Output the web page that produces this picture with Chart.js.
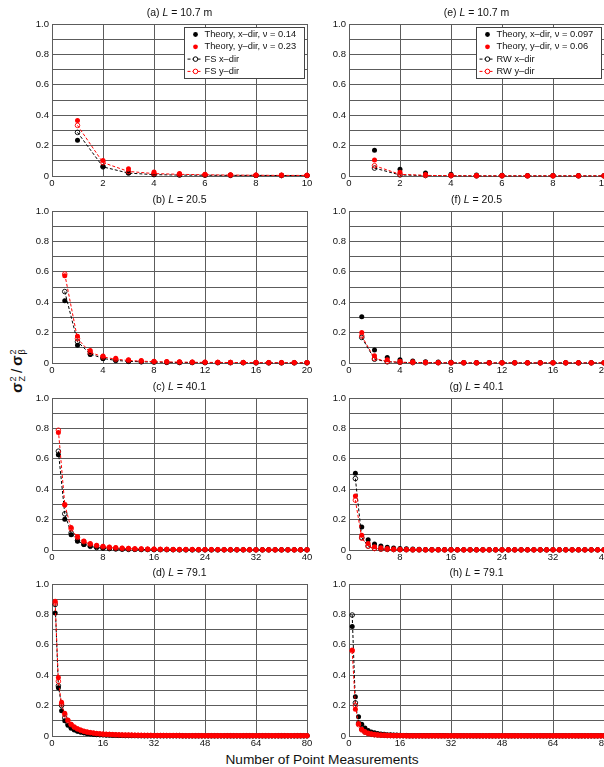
<!DOCTYPE html>
<html>
<head>
<meta charset="utf-8">
<script src="https://cdn.jsdelivr.net/npm/chart.js@4.4.0/dist/chart.umd.min.js"></script>
<style>
  html, body { margin: 0; padding: 0; background: #fff; }
  #wrap { position: relative; width: 604px; height: 767px; overflow: hidden; background: #fff; }
  #wrap canvas { position: absolute; }
  #xlab { position: absolute; left: 322px; top: 759px; transform: translate(-50%, -50%);
          font: 13.7px 'Liberation Sans', Arial, sans-serif; color: #111; white-space: nowrap; }
  #ylab { position: absolute; left: 18px; top: 371px; transform: translate(-50%, -50%) rotate(-90deg);
          font: 15px 'Liberation Sans', Arial, sans-serif; color: #111; white-space: nowrap; }
  #ylab b { font-weight: bold; }
  #ylab .ss { display: inline-flex; flex-direction: column; font-size: 9px; line-height: 9px;
              vertical-align: middle; margin-left: 1px; }
  #ylab .sl { margin: 0 3px; font-weight: normal; }
</style>
</head>
<body>
<div id="wrap">
  <div id="ylab"><b>σ</b><span class="ss"><span>2</span><span>Z</span></span><span class="sl">/</span><b>σ</b><span class="ss"><span>2</span><span>β</span></span></div>
  <div id="xlab">Number of Point Measurements</div>
</div>
<script>
// y axis: grid every 0.1, labels every 0.2
const yGrid = [0, 0.1, 0.2, 0.3, 0.4, 0.5, 0.6, 0.7, 0.8, 0.9, 1.0];
const yTickLabels = ['0', '', '0.2', '', '0.4', '', '0.6', '', '0.8', '', '1.0'];

// x ticks for each row of panels
const xTicks10 = [0, 2, 4, 6, 8, 10];
const xTicks20 = [0, 4, 8, 12, 16, 20];
const xTicks40 = [0, 8, 16, 24, 32, 40];
const xTicks80 = [0, 16, 32, 48, 64, 80];

const legendFS = ['Theory, x–dir, ν = 0.14', 'Theory, y–dir, ν = 0.23', 'FS x–dir', 'FS y–dir'];
const legendRW = ['Theory, x–dir, ν = 0.097', 'Theory, y–dir, ν = 0.06', 'RW x–dir', 'RW y–dir'];

// (a) L = 10.7 m, FS
const thxA = [0.236, 0.063, 0.022, 0.012, 0.008, 0.006, 0.005, 0.004, 0.004, 0.003];
const thyA = [0.365, 0.102, 0.047, 0.026, 0.016, 0.011, 0.008, 0.007, 0.006, 0.005];
const fsxA = [0.287, 0.06, 0.019, 0.009, 0.006, 0.005, 0.004, 0.004, 0.003, 0.003];
const fsyA = [0.333, 0.088, 0.03, 0.016, 0.011, 0.008, 0.006, 0.005, 0.004, 0.004];

// (e) L = 10.7 m, RW
const thxE = [0.17, 0.045, 0.02, 0.011, 0.007, 0.005, 0.004, 0.003, 0.003, 0.002];
const thyE = [0.106, 0.025, 0.01, 0.006, 0.004, 0.003, 0.002, 0.002, 0.002, 0.001];
const rwxE = [0.052, 0.007, 0.003, 0.002, 0.001, 0.001, 0.001, 0.001, 0.001, 0.001];
const rwyE = [0.068, 0.011, 0.004, 0.002, 0.001, 0.001, 0.001, 0.001, 0.001, 0.001];

// (b) L = 20.5, FS
const thxB = [0.41, 0.116, 0.056, 0.03, 0.018, 0.012, 0.009, 0.007, 0.005, 0.004,
              0.004, 0.003, 0.003, 0.003, 0.002, 0.002, 0.002, 0.002, 0.002, 0.002];
const thyB = [0.574, 0.176, 0.082, 0.046, 0.031, 0.021, 0.016, 0.012, 0.01, 0.008,
              0.007, 0.006, 0.005, 0.005, 0.004, 0.004, 0.004, 0.003, 0.003, 0.003];
const fsxB = [0.47, 0.14, 0.06, 0.03, 0.017, 0.011, 0.008, 0.006, 0.004, 0.003,
              0.003, 0.002, 0.002, 0.002, 0.002, 0.001, 0.001, 0.001, 0.001, 0.001];
const fsyB = [0.585, 0.16, 0.07, 0.04, 0.025, 0.017, 0.012, 0.009, 0.007, 0.006,
              0.005, 0.004, 0.004, 0.003, 0.003, 0.003, 0.002, 0.002, 0.002, 0.002];

// (f) L = 20.5, RW
const thxF = [0.305, 0.085, 0.037, 0.021, 0.013, 0.009, 0.007, 0.005, 0.004, 0.003,
              0.003, 0.002, 0.002, 0.002, 0.002, 0.002, 0.001, 0.001, 0.001, 0.001];
const thyF = [0.2, 0.048, 0.021, 0.012, 0.008, 0.005, 0.004, 0.003, 0.003, 0.002,
              0.002, 0.002, 0.002, 0.001, 0.001, 0.001, 0.001, 0.001, 0.001, 0.001];
const rwxF = [0.168, 0.025, 0.008, 0.004, 0.003, 0.002, 0.002, 0.001, 0.001, 0.001,
              0.001, 0.001, 0.001, 0.001, 0.001, 0.001, 0.001, 0.001, 0.001, 0.001];
const rwyF = [0.178, 0.03, 0.01, 0.005, 0.003, 0.002, 0.002, 0.001, 0.001, 0.001,
              0.001, 0.001, 0.001, 0.001, 0.001, 0.001, 0.001, 0.001, 0.001, 0.001];

// (c) L = 40.1, FS
const thxC = [0.627, 0.203, 0.1, 0.058, 0.037, 0.026, 0.019, 0.014, 0.011, 0.009,
              0.007, 0.006, 0.005, 0.004, 0.004, 0.003, 0.003, 0.003, 0.002, 0.002,
              0.002, 0.002, 0.002, 0.002, 0.002, 0.001, 0.001, 0.001, 0.001, 0.001,
              0.001, 0.001, 0.001, 0.001, 0.001, 0.001, 0.001, 0.001, 0.001, 0.001];
const thyC = [0.773, 0.296, 0.148, 0.088, 0.06, 0.043, 0.032, 0.025, 0.02, 0.016,
              0.013, 0.011, 0.009, 0.008, 0.007, 0.006, 0.005, 0.005, 0.004, 0.004,
              0.004, 0.003, 0.003, 0.003, 0.003, 0.003, 0.002, 0.002, 0.002, 0.002,
              0.002, 0.002, 0.002, 0.002, 0.002, 0.002, 0.002, 0.002, 0.002, 0.002];
const fsxC = [0.65, 0.238, 0.112, 0.062, 0.037, 0.024, 0.016, 0.012, 0.009, 0.007,
              0.005, 0.004, 0.004, 0.003, 0.003, 0.002, 0.002, 0.002, 0.002, 0.001,
              0.001, 0.001, 0.001, 0.001, 0.001, 0.001, 0.001, 0.001, 0.001, 0.001,
              0.001, 0.001, 0.001, 0.001, 0.001, 0.001, 0.001, 0.001, 0.001, 0.001];
const fsyC = [0.788, 0.3, 0.14, 0.083, 0.055, 0.038, 0.028, 0.021, 0.016, 0.013,
              0.01, 0.009, 0.007, 0.006, 0.005, 0.005, 0.004, 0.004, 0.003, 0.003,
              0.003, 0.003, 0.002, 0.002, 0.002, 0.002, 0.002, 0.002, 0.002, 0.002,
              0.002, 0.001, 0.001, 0.001, 0.001, 0.001, 0.001, 0.001, 0.001, 0.001];

// (g) L = 40.1, RW
const thxG = [0.505, 0.152, 0.068, 0.039, 0.026, 0.018, 0.013, 0.01, 0.008, 0.006,
              0.005, 0.004, 0.004, 0.003, 0.003, 0.003, 0.002, 0.002, 0.002, 0.002,
              0.002, 0.002, 0.002, 0.001, 0.001, 0.001, 0.001, 0.001, 0.001, 0.001,
              0.001, 0.001, 0.001, 0.001, 0.001, 0.001, 0.001, 0.001, 0.001, 0.001];
const thyG = [0.355, 0.097, 0.042, 0.022, 0.014, 0.01, 0.007, 0.005, 0.004, 0.003,
              0.003, 0.002, 0.002, 0.002, 0.002, 0.001, 0.001, 0.001, 0.001, 0.001,
              0.001, 0.001, 0.001, 0.001, 0.001, 0.001, 0.001, 0.001, 0.001, 0.001,
              0.001, 0.001, 0.001, 0.001, 0.001, 0.001, 0.001, 0.001, 0.001, 0.001];
const rwxG = [0.47, 0.082, 0.026, 0.011, 0.006, 0.004, 0.003, 0.002, 0.002, 0.001,
              0.001, 0.001, 0.001, 0.001, 0.001, 0.001, 0.001, 0.001, 0.001, 0.001,
              0.001, 0.001, 0.001, 0.001, 0.001, 0.001, 0.001, 0.001, 0.001, 0.001,
              0.001, 0.001, 0.001, 0.001, 0.001, 0.001, 0.001, 0.001, 0.001, 0.001];
const rwyG = [0.328, 0.078, 0.025, 0.01, 0.006, 0.004, 0.003, 0.002, 0.002, 0.001,
              0.001, 0.001, 0.001, 0.001, 0.001, 0.001, 0.001, 0.001, 0.001, 0.001,
              0.001, 0.001, 0.001, 0.001, 0.001, 0.001, 0.001, 0.001, 0.001, 0.001,
              0.001, 0.001, 0.001, 0.001, 0.001, 0.001, 0.001, 0.001, 0.001, 0.001];

// (d) L = 79.1, FS
const thxD = [0.81, 0.318, 0.166, 0.1, 0.07, 0.051, 0.04, 0.032, 0.026, 0.021,
              0.017, 0.014, 0.012, 0.01, 0.009, 0.008, 0.007, 0.006, 0.005, 0.005,
              0.004, 0.004, 0.004, 0.003, 0.003, 0.003, 0.003, 0.003, 0.002, 0.002,
              0.002, 0.002, 0.002, 0.002, 0.002, 0.002, 0.002, 0.002, 0.002, 0.002,
              0.002, 0.002, 0.002, 0.001, 0.001, 0.001, 0.001, 0.001, 0.001, 0.001,
              0.001, 0.001, 0.001, 0.001, 0.001, 0.001, 0.001, 0.001, 0.001, 0.001,
              0.001, 0.001, 0.001, 0.001, 0.001, 0.001, 0.001, 0.001, 0.001, 0.001,
              0.001, 0.001, 0.001, 0.001, 0.001, 0.001, 0.001, 0.001, 0.001, 0.001];
const thyD = [0.886, 0.385, 0.222, 0.149, 0.105, 0.077, 0.06, 0.048, 0.039, 0.032,
              0.027, 0.023, 0.02, 0.017, 0.015, 0.013, 0.012, 0.011, 0.01, 0.009,
              0.008, 0.007, 0.007, 0.006, 0.006, 0.005, 0.005, 0.005, 0.004, 0.004,
              0.004, 0.004, 0.003, 0.003, 0.003, 0.003, 0.003, 0.003, 0.003, 0.002,
              0.002, 0.002, 0.002, 0.002, 0.002, 0.002, 0.002, 0.002, 0.002, 0.002,
              0.002, 0.002, 0.002, 0.002, 0.002, 0.002, 0.002, 0.002, 0.002, 0.002,
              0.002, 0.002, 0.002, 0.002, 0.002, 0.002, 0.002, 0.002, 0.002, 0.002,
              0.002, 0.002, 0.002, 0.002, 0.002, 0.002, 0.002, 0.002, 0.002, 0.002];
const fsxD = [0.865, 0.33, 0.2, 0.12, 0.08, 0.058, 0.044, 0.034, 0.027, 0.022,
              0.018, 0.015, 0.012, 0.01, 0.009, 0.008, 0.007, 0.006, 0.005, 0.005,
              0.004, 0.004, 0.003, 0.003, 0.003, 0.003, 0.002, 0.002, 0.002, 0.002,
              0.002, 0.002, 0.002, 0.002, 0.002, 0.002, 0.002, 0.002, 0.002, 0.002,
              0.001, 0.001, 0.001, 0.001, 0.001, 0.001, 0.001, 0.001, 0.001, 0.001,
              0.001, 0.001, 0.001, 0.001, 0.001, 0.001, 0.001, 0.001, 0.001, 0.001,
              0.001, 0.001, 0.001, 0.001, 0.001, 0.001, 0.001, 0.001, 0.001, 0.001,
              0.001, 0.001, 0.001, 0.001, 0.001, 0.001, 0.001, 0.001, 0.001, 0.001];
const fsyD = [0.875, 0.36, 0.21, 0.14, 0.1, 0.075, 0.058, 0.046, 0.037, 0.031,
              0.026, 0.022, 0.019, 0.016, 0.014, 0.012, 0.011, 0.01, 0.009, 0.008,
              0.007, 0.007, 0.006, 0.006, 0.005, 0.005, 0.005, 0.004, 0.004, 0.004,
              0.004, 0.003, 0.003, 0.003, 0.003, 0.003, 0.003, 0.003, 0.003, 0.003,
              0.002, 0.002, 0.002, 0.002, 0.002, 0.002, 0.002, 0.002, 0.002, 0.002,
              0.002, 0.002, 0.002, 0.002, 0.002, 0.002, 0.002, 0.002, 0.002, 0.002,
              0.002, 0.002, 0.002, 0.002, 0.002, 0.002, 0.002, 0.002, 0.002, 0.002,
              0.002, 0.002, 0.002, 0.002, 0.002, 0.002, 0.002, 0.002, 0.002, 0.002];

// (h) L = 79.1, RW
const thxH = [0.72, 0.258, 0.127, 0.078, 0.052, 0.037, 0.027, 0.021, 0.016, 0.013,
              0.011, 0.009, 0.008, 0.007, 0.006, 0.005, 0.004, 0.004, 0.004, 0.003,
              0.003, 0.003, 0.003, 0.003, 0.003, 0.003, 0.003, 0.003, 0.003, 0.003,
              0.002, 0.002, 0.002, 0.002, 0.002, 0.002, 0.002, 0.002, 0.002, 0.002,
              0.002, 0.002, 0.002, 0.002, 0.002, 0.002, 0.002, 0.002, 0.002, 0.002,
              0.001, 0.001, 0.001, 0.001, 0.001, 0.001, 0.001, 0.001, 0.001, 0.001,
              0.001, 0.001, 0.001, 0.001, 0.001, 0.001, 0.001, 0.001, 0.001, 0.001,
              0.001, 0.001, 0.001, 0.001, 0.001, 0.001, 0.001, 0.001, 0.001, 0.001];
const thyH = [0.565, 0.176, 0.08, 0.045, 0.029, 0.02, 0.015, 0.011, 0.009, 0.007,
              0.006, 0.005, 0.004, 0.004, 0.003, 0.003, 0.003, 0.002, 0.002, 0.002,
              0.002, 0.002, 0.002, 0.002, 0.002, 0.002, 0.002, 0.002, 0.002, 0.002,
              0.001, 0.001, 0.001, 0.001, 0.001, 0.001, 0.001, 0.001, 0.001, 0.001,
              0.001, 0.001, 0.001, 0.001, 0.001, 0.001, 0.001, 0.001, 0.001, 0.001,
              0.001, 0.001, 0.001, 0.001, 0.001, 0.001, 0.001, 0.001, 0.001, 0.001,
              0.001, 0.001, 0.001, 0.001, 0.001, 0.001, 0.001, 0.001, 0.001, 0.001,
              0.001, 0.001, 0.001, 0.001, 0.001, 0.001, 0.001, 0.001, 0.001, 0.001];
const rwxH = [0.796, 0.218, 0.085, 0.045, 0.027, 0.018, 0.013, 0.009, 0.007, 0.005,
              0.004, 0.004, 0.003, 0.003, 0.002, 0.002, 0.002, 0.002, 0.001, 0.001,
              0.001, 0.001, 0.001, 0.001, 0.001, 0.001, 0.001, 0.001, 0.001, 0.001,
              0.001, 0.001, 0.001, 0.001, 0.001, 0.001, 0.001, 0.001, 0.001, 0.001,
              0.001, 0.001, 0.001, 0.001, 0.001, 0.001, 0.001, 0.001, 0.001, 0.001,
              0.001, 0.001, 0.001, 0.001, 0.001, 0.001, 0.001, 0.001, 0.001, 0.001,
              0.001, 0.001, 0.001, 0.001, 0.001, 0.001, 0.001, 0.001, 0.001, 0.001,
              0.001, 0.001, 0.001, 0.001, 0.001, 0.001, 0.001, 0.001, 0.001, 0.001];
const rwyH = [0.56, 0.2, 0.075, 0.04, 0.024, 0.016, 0.011, 0.008, 0.006, 0.005,
              0.004, 0.003, 0.003, 0.002, 0.002, 0.002, 0.002, 0.001, 0.001, 0.001,
              0.001, 0.001, 0.001, 0.001, 0.001, 0.001, 0.001, 0.001, 0.001, 0.001,
              0.001, 0.001, 0.001, 0.001, 0.001, 0.001, 0.001, 0.001, 0.001, 0.001,
              0.001, 0.001, 0.001, 0.001, 0.001, 0.001, 0.001, 0.001, 0.001, 0.001,
              0.001, 0.001, 0.001, 0.001, 0.001, 0.001, 0.001, 0.001, 0.001, 0.001,
              0.001, 0.001, 0.001, 0.001, 0.001, 0.001, 0.001, 0.001, 0.001, 0.001,
              0.001, 0.001, 0.001, 0.001, 0.001, 0.001, 0.001, 0.001, 0.001, 0.001];

const FONT = "'Liberation Sans', Arial, sans-serif";
const GRID = '#5c5c5c';
Chart.defaults.font.family = FONT;
Chart.defaults.color = '#111';

// panel title with an italic L
const partTitle = {
  id: 'partTitle',
  afterDraw(chart, args, o) {
    const a = chart.chartArea, ctx = chart.ctx;
    const parts = [[o.pre, ''], ['L', 'italic '], [o.post, '']];
    ctx.save();
    ctx.fillStyle = '#111';
    ctx.textBaseline = 'middle';
    ctx.textAlign = 'left';
    let total = 0;
    const ws = parts.map(p => {
      ctx.font = p[1] + '10.5px ' + FONT;
      const w = ctx.measureText(p[0]).width;
      total += w;
      return w;
    });
    let x = (a.left + a.right) / 2 - total / 2;
    parts.forEach((p, i) => {
      ctx.font = p[1] + '10.5px ' + FONT;
      ctx.fillText(p[0], x, a.top - 11);
      x += ws[i];
    });
    ctx.restore();
  }
};

// boxed legend in the top-right corner of the plot
const boxLegend = {
  id: 'boxLegend',
  afterDatasetsDraw(chart, args, o) {
    if (!o.show) return;
    const ctx = chart.ctx, a = chart.chartArea;
    const sets = chart.data.datasets;
    ctx.save();
    ctx.font = '9.3px ' + FONT;
    let w = 0;
    sets.forEach(d => { w = Math.max(w, ctx.measureText(d.label).width); });
    const bw = Math.round(20 + w + 8), bh = 51;
    const x0 = Math.round(a.right - 3 - bw) + 0.5, y0 = Math.round(a.top + 3) + 0.5;
    ctx.fillStyle = '#fff';
    ctx.fillRect(x0, y0, bw, bh);
    ctx.strokeStyle = '#444';
    ctx.lineWidth = 1;
    ctx.strokeRect(x0, y0, bw, bh);
    sets.forEach((d, i) => {
      const cy = y0 + 7 + i * 12.3, cx = x0 + 11;
      if (d.showLine === false) {
        ctx.fillStyle = d.pointBackgroundColor;
        ctx.beginPath(); ctx.arc(cx, cy, 2.4, 0, Math.PI * 2); ctx.fill();
      } else {
        ctx.strokeStyle = d.borderColor;
        ctx.lineWidth = 1;
        ctx.setLineDash([3, 2]);
        ctx.beginPath(); ctx.moveTo(x0 + 3, cy); ctx.lineTo(x0 + 18, cy); ctx.stroke();
        ctx.setLineDash([]);
        ctx.fillStyle = '#fff';
        ctx.beginPath(); ctx.arc(cx, cy, 2.3, 0, Math.PI * 2); ctx.fill(); ctx.stroke();
      }
      ctx.fillStyle = '#111';
      ctx.textBaseline = 'middle';
      ctx.fillText(d.label, x0 + 20, cy);
    });
    ctx.restore();
  }
};

const toPts = arr => arr.map((v, i) => ({ x: i + 1, y: v }));

function makeSets(series, names) {
  const dot = (c) => ({ showLine: false, pointRadius: 2.5, pointBorderWidth: 0,
    pointBackgroundColor: c, pointBorderColor: c, borderColor: c });
  const dashed = (c) => ({ borderColor: c, borderWidth: 1, borderDash: [3, 2],
    pointRadius: 2.3, pointBorderWidth: 0.9, pointBorderColor: c,
    pointBackgroundColor: 'rgba(0,0,0,0)' });
  return [
    Object.assign({ label: names[0], data: toPts(series[0]), order: 2 }, dot('#000')),
    Object.assign({ label: names[1], data: toPts(series[1]), order: 0 }, dot('#ff0000')),
    Object.assign({ label: names[2], data: toPts(series[2]), order: 3 }, dashed('#000')),
    Object.assign({ label: names[3], data: toPts(series[3]), order: 1 }, dashed('#ff0000'))
  ];
}

const panels = [
  { pre: '(a) ', post: ' = 10.7 m', xt: xTicks10, s: [thxA, thyA, fsxA, fsyA], names: legendFS, col: 0, row: 0, legend: true },
  { pre: '(b) ', post: ' = 20.5',   xt: xTicks20, s: [thxB, thyB, fsxB, fsyB], names: legendFS, col: 0, row: 1 },
  { pre: '(c) ', post: ' = 40.1',   xt: xTicks40, s: [thxC, thyC, fsxC, fsyC], names: legendFS, col: 0, row: 2 },
  { pre: '(d) ', post: ' = 79.1',   xt: xTicks80, s: [thxD, thyD, fsxD, fsyD], names: legendFS, col: 0, row: 3 },
  { pre: '(e) ', post: ' = 10.7 m', xt: xTicks10, s: [thxE, thyE, rwxE, rwyE], names: legendRW, col: 1, row: 0, legend: true },
  { pre: '(f) ', post: ' = 20.5',   xt: xTicks20, s: [thxF, thyF, rwxF, rwyF], names: legendRW, col: 1, row: 1 },
  { pre: '(g) ', post: ' = 40.1',   xt: xTicks40, s: [thxG, thyG, rwxG, rwyG], names: legendRW, col: 1, row: 2 },
  { pre: '(h) ', post: ' = 79.1',   xt: xTicks80, s: [thxH, thyH, rwxH, rwyH], names: legendRW, col: 1, row: 3 }
];

const rowTops = [0, 187, 374, 560];
const wrap = document.getElementById('wrap');

panels.forEach(p => {
  const cv = document.createElement('canvas');
  cv.width = 320;
  cv.height = 195;
  cv.style.left = (p.col ? 300 : 0) + 'px';
  cv.style.top = rowTops[p.row] + 'px';
  wrap.appendChild(cv);
  const yW = p.col ? 49 : 52;
  const padR = p.col ? 16 : 13;

  new Chart(cv.getContext('2d'), {
    type: 'line',
    data: { datasets: makeSets(p.s, p.names) },
    plugins: [partTitle, boxLegend],
    options: {
      responsive: false,
      animation: false,
      events: [],
      devicePixelRatio: 1,
      clip: false,
      layout: { autoPadding: false, padding: { left: 0, right: padR, top: 24, bottom: 4 } },
      plugins: {
        legend: { display: false },
        tooltip: { enabled: false },
        partTitle: { pre: p.pre, post: p.post },
        boxLegend: { show: !!p.legend }
      },
      scales: {
        x: {
          type: 'linear', min: 0, max: p.xt[p.xt.length - 1],
          afterBuildTicks: s => { s.ticks = p.xt.map(v => ({ value: v })); },
          afterFit: s => { s.height = 15; },
          ticks: { autoSkip: false, maxRotation: 0, padding: 2, font: { size: 9.5 }, color: '#111',
                   callback: v => String(v) },
          grid: { color: GRID, lineWidth: 1, drawTicks: false },
          border: { color: GRID, width: 1 }
        },
        y: {
          type: 'linear', min: 0, max: 1,
          afterBuildTicks: s => { s.ticks = yGrid.map(v => ({ value: v })); },
          afterFit: s => { s.width = yW; },
          ticks: { autoSkip: false, padding: 3, font: { size: 9.5 }, color: '#111',
                   callback: (v, i) => yTickLabels[i] },
          grid: { color: GRID, lineWidth: 1, drawTicks: false },
          border: { color: GRID, width: 1 }
        }
      }
    }
  });
});
</script>
</body>
</html>
